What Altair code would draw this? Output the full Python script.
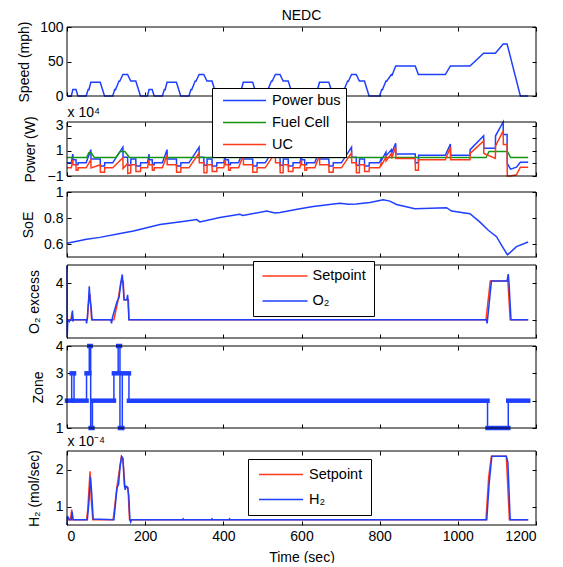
import altair as alt
import pandas as pd

FONT = "Liberation Sans"
BLUE = "#1f3fff"
RED = "#ff3a1a"
GREEN = "#139613"
W = 469
H = 498
XT = [0, 200, 400, 600, 800, 1000, 1200]

# ---------------- data ----------------
SPEED_T = [0, 11, 15, 23, 28, 49, 54, 56, 61, 85, 96, 117, 122, 124, 133, 135, 143, 155, 163, 176, 188,
           206, 210, 218, 223, 244, 249, 251, 256, 280, 291, 312, 317, 319, 328, 330, 338, 350, 358, 371, 383,
           401, 405, 413, 418, 439, 444, 446, 451, 475, 486, 507, 512, 514, 523, 525, 533, 545, 553, 566, 578,
           596, 600, 608, 613, 634, 639, 641, 646, 670, 681, 702, 707, 709, 718, 720, 728, 740, 748, 761, 773,
           800, 805, 807, 816, 818, 830, 832, 841, 891, 899, 968, 981, 1031, 1066, 1096, 1116, 1126, 1160, 1180]
SPEED_V = [0, 0, 9.3, 9.3, 0, 0, 9.3, 9.0, 19.9, 19.9, 0, 0, 9.3, 9.0, 21.7, 21.4, 31.1, 31.1, 21.7, 21.7, 0,
           0, 9.3, 9.3, 0, 0, 9.3, 9.0, 19.9, 19.9, 0, 0, 9.3, 9.0, 21.7, 21.4, 31.1, 31.1, 21.7, 21.7, 0,
           0, 9.3, 9.3, 0, 0, 9.3, 9.0, 19.9, 19.9, 0, 0, 9.3, 9.0, 21.7, 21.4, 31.1, 31.1, 21.7, 21.7, 0,
           0, 9.3, 9.3, 0, 0, 9.3, 9.0, 19.9, 19.9, 0, 0, 9.3, 9.0, 21.7, 21.4, 31.1, 31.1, 21.7, 21.7, 0,
           0, 9.3, 9.0, 21.7, 21.4, 31.1, 30.5, 43.5, 43.5, 31.1, 31.1, 43.5, 43.5, 62.1, 62.1, 75.5, 75.5, 0, 0]

# Power (x 10^4 W): bus and ultracapacitor share time breakpoints
POW_T = [0, 11, 15, 15.5, 23, 23.5, 28, 28.5, 49, 61, 61.5, 85, 85.5, 96, 96.5, 117, 143, 143.5, 155, 155.5, 163, 163.5, 176, 176.5, 188, 188.5,
         206, 210, 210.5, 218, 218.5, 223, 223.5, 244, 256, 256.5, 280, 280.5, 291, 291.5, 312, 338, 338.5, 350, 350.5, 358, 358.5, 371, 371.5, 383, 383.5,
         401, 405, 405.5, 413, 413.5, 418, 418.5, 439, 451, 451.5, 475, 475.5, 486, 486.5, 507, 533, 533.5, 545, 545.5, 553, 553.5, 566, 566.5, 578, 578.5,
         596, 600, 600.5, 608, 608.5, 613, 613.5, 634, 646, 646.5, 670, 670.5, 681, 681.5, 702, 728, 728.5, 740, 740.5, 748, 748.5, 761, 761.5, 773, 773.5,
         800, 805, 805.5, 816, 816.5, 830, 830.5, 841, 841.5, 891, 891.5, 899, 899.5, 968, 981, 981.5, 1031, 1031.5, 1066, 1066.5, 1096, 1096.5, 1116, 1116.5, 1126, 1126.5, 1135, 1150, 1160, 1180]
BUS_V = [0.05, 0.05, 0.75, 0.3, 0.3, -0.1, -0.1, 0.05, 0.05, 1.1, 0.35, 0.35, -0.2, -0.2, 0.05, 0.05, 1.3, 0.5, 0.5, -0.15, -0.15, 0.35, 0.35, -0.2, -0.2, 0.05,
         0.05, 0.75, 0.3, 0.3, -0.1, -0.1, 0.05, 0.05, 1.1, 0.35, 0.35, -0.2, -0.2, 0.05, 0.05, 1.3, 0.5, 0.5, -0.15, -0.15, 0.35, 0.35, -0.2, -0.2, 0.05,
         0.05, 0.75, 0.3, 0.3, -0.1, -0.1, 0.05, 0.05, 1.1, 0.35, 0.35, -0.2, -0.2, 0.05, 0.05, 1.3, 0.5, 0.5, -0.15, -0.15, 0.35, 0.35, -0.2, -0.2, 0.05,
         0.05, 0.75, 0.3, 0.3, -0.1, -0.1, 0.05, 0.05, 1.1, 0.35, 0.35, -0.2, -0.2, 0.05, 0.05, 1.3, 0.5, 0.5, -0.15, -0.15, 0.35, 0.35, -0.2, -0.2, 0.05,
         0.05, 0.5, 0.3, 0.9, 0.6, 1.1, 0.8, 1.6, 0.75, 0.75, 0.05, 0.05, 0.65, 0.65, 1.55, 0.65, 0.65, 1.1, 2.2, 1.2, 1.2, 2.2, 3.6, 2.3, 2.3, 0.0, -0.45, -0.3, 0.1, 0.1]
UC_V = [-0.35, -0.35, 0.3, -0.1, -0.1, -0.55, -0.55, -0.35, -0.35, 0.3, -0.35, -0.1, -0.7, -0.7, -0.35, -0.35, 0.45, -0.4, 0.0, -0.8, -0.75, -0.1, -0.1, -0.65, -0.65, -0.35,
        -0.35, 0.3, -0.1, -0.1, -0.55, -0.55, -0.35, -0.35, 0.65, -0.1, -0.1, -0.7, -0.7, -0.35, -0.35, 0.85, 0.05, 0.05, -0.75, -0.75, -0.1, -0.1, -0.65, -0.65, -0.35,
        -0.35, 0.3, -0.1, -0.1, -0.55, -0.55, -0.35, -0.35, 0.65, -0.1, -0.1, -0.7, -0.7, -0.35, -0.35, 0.85, 0.05, 0.05, -0.75, -0.75, -0.1, -0.1, -0.65, -0.65, -0.35,
        -0.35, 0.3, -0.1, -0.1, -0.55, -0.55, -0.35, -0.35, 0.65, -0.1, -0.1, -0.7, -0.7, -0.35, -0.35, 0.85, 0.05, 0.05, -0.75, -0.75, -0.1, -0.1, -0.65, -0.65, -0.35,
        -0.35, 0.1, -0.1, 0.5, 0.2, 0.8, 0.4, 1.3, 0.4, 0.4, -0.55, -0.55, 0.3, 0.3, 1.3, 0.3, 0.3, 0.8, 1.8, 0.8, 0.4, 1.4, 2.6, 1.5, 1.5, -1.1, -1.0, -0.9, -0.3, -0.3]
FC_T = [0, 50, 56, 62, 70, 125, 136, 148, 160, 1072, 1080, 1127, 1135, 1180]
FC_V = [0.47, 0.47, 0.85, 0.85, 0.47, 0.47, 0.95, 0.95, 0.47, 0.47, 0.95, 0.95, 0.47, 0.47]

SOE_T = [0, 50, 84, 136, 170, 238, 306, 332, 340, 391, 442, 450, 511, 532, 545, 596, 630, 698, 720, 740,
         775, 809, 826, 843, 890, 971, 984, 1031, 1056, 1078, 1099, 1112, 1127, 1150, 1180]
SOE_V = [0.605, 0.636, 0.651, 0.68, 0.70, 0.75, 0.777, 0.788, 0.77, 0.803, 0.828, 0.82, 0.853, 0.838, 0.843, 0.872, 0.889, 0.914, 0.905, 0.908,
         0.92, 0.94, 0.93, 0.904, 0.871, 0.879, 0.853, 0.833, 0.77, 0.706, 0.656, 0.59, 0.516, 0.58, 0.615]

O2SP_T = [0, 10, 13, 16, 52, 56, 59, 63, 120, 130, 138, 144, 146, 157, 158.5, 1072, 1083, 1128, 1134, 1180]
O2SP_V = [3.0, 3.0, 3.2, 3.0, 3.0, 3.6, 3.7, 3.0, 3.0, 3.5, 4.05, 4.05, 3.55, 3.55, 3.0, 3.0, 4.06, 4.06, 3.0, 3.0]
O2_T = [0, 0.5, 2, 6, 8, 12, 14, 15, 17, 49, 50, 52, 55, 57, 59, 62, 64, 112, 114, 116, 128, 133, 139, 141.5,
        146, 153, 155, 156, 158.5, 1073, 1075, 1086, 1126, 1129, 1131, 1136, 1180]
O2_V = [4.47, 2.53, 3.0, 2.95, 3.0, 3.0, 3.25, 2.95, 3.0, 3.0, 2.9, 3.05, 3.5, 3.92, 3.55, 3.3, 3.0, 3.0, 2.9, 3.05, 3.5, 3.6, 4.1, 4.24,
        3.55, 3.55, 3.68, 3.55, 3.0, 3.0, 2.9, 4.06, 4.06, 4.25, 4.0, 3.0, 3.0]

ZONE_START = [0, 12, 18, 50, 57, 60.6, 65, 120, 131, 135.5, 141.5, 158.5, 1076, 1129]
ZONE_END = [12, 18, 50, 57, 60.6, 65, 120, 131, 135.5, 141.5, 158.5, 1076, 1129, 1180]
ZONE_VAL = [2, 3, 2, 3, 4, 1, 2, 3, 4, 1, 3, 2, 1, 2]

H2SP_T = [0, 9, 12, 14, 50, 53, 57, 59, 62, 66, 118, 122, 128, 133, 139, 143, 148, 156, 160, 1072, 1079, 1086, 1124, 1132, 1180]
H2SP_V = [0.64, 0.64, 0.92, 0.64, 0.64, 0.9, 1.6, 1.95, 1.2, 0.64, 0.64, 1.0, 1.55, 1.9, 2.35, 2.3, 1.55, 1.5, 0.64, 0.64, 1.8, 2.36, 2.36, 0.64, 0.64]
H2_T = [0, 1, 4, 6, 11, 13, 16, 52, 56, 60, 63, 67, 120, 128, 132, 136, 140, 143, 147, 149, 151, 155, 158, 161, 163, 165,
        295, 297, 299, 369, 371, 373, 414, 416, 418, 1074, 1080, 1087, 1124, 1128, 1134, 1180]
H2_V = [0.5, 0.72, 0.7, 0.64, 0.64, 0.86, 0.64, 0.64, 1.1, 1.8, 1.4, 0.66, 0.64, 1.5, 1.6, 2.1, 2.35, 2.3, 1.55, 1.45, 1.55, 1.52, 1.3, 0.64, 0.58, 0.64,
        0.64, 0.67, 0.64, 0.64, 0.67, 0.64, 0.64, 0.67, 0.64, 0.64, 1.6, 2.36, 2.36, 2.2, 0.64, 0.64]

# ---------------- tables ----------------
df_speed = pd.DataFrame({"t": SPEED_T, "v": SPEED_V})
df_power = pd.concat([
    pd.DataFrame({"t": POW_T, "v": BUS_V, "s": "Power bus"}),
    pd.DataFrame({"t": FC_T, "v": FC_V, "s": "Fuel Cell"}),
    pd.DataFrame({"t": POW_T, "v": UC_V, "s": "UC"}),
], ignore_index=True)
df_soe = pd.DataFrame({"t": SOE_T, "v": SOE_V})
df_o2sp = pd.DataFrame({"t": O2SP_T, "v": O2SP_V, "s": "Setpoint"})
df_o2 = pd.DataFrame({"t": O2_T, "v": O2_V, "s": "O\u2082"})
df_zone = pd.DataFrame({"t": ZONE_START, "t2": ZONE_END, "v": ZONE_VAL})
df_h2sp = pd.DataFrame({"t": H2SP_T, "v": H2SP_V, "s": "Setpoint"})
df_h2 = pd.DataFrame({"t": H2_T, "v": H2_V, "s": "H\u2082"})

TICK = dict(ticks=True, tickSize=4, tickWidth=1, tickColor="black", domain=False, grid=False)
XS = alt.Scale(domain=[0, 1200], nice=False, zero=False)


def legend(x, y, pad, rowpad, symoff, symlen, laboff):
    return alt.Legend(orient="none", legendX=x, legendY=y, title=None, fillColor="white",
                      strokeColor="black", padding=pad, rowPadding=rowpad, symbolOffset=symoff,
                      symbolSize=symlen * symlen, symbolStrokeWidth=1.5, symbolType="stroke",
                      clipHeight=15, labelOffset=laboff, labelFontSize=14.5, labelFont=FONT,
                      labelColor="black", labelLimit=0, cornerRadius=0)


def panel(make_layers, dom, ticks, top, bottom, ytitle, tpad, xlabels=False, exp=None, clamp=False):
    """One framed axes box; top/bottom are its pixel edges inside the shared plot."""
    ys = alt.Scale(domain=dom, range=[bottom, top], nice=False, zero=False, clamp=clamp)
    frame_df = pd.DataFrame({"t": [XT[0]], "t2": [XT[-1]], "v": [dom[0]], "v2": [dom[1]]})
    if xlabels:
        xb = alt.Axis(orient="bottom", values=XT, offset=bottom - 4 - H, labels=True, format="~r",
                      labelPadding=4, title="Time (sec)", titlePadding=7, **TICK)
    else:
        xb = alt.Axis(orient="bottom", values=XT, offset=bottom - 4 - H, labels=False, title=None, **TICK)
    yl = alt.Axis(orient="left", values=ticks, offset=-4, format="~r", labelPadding=4,
                  title=ytitle, titlePadding=tpad, **TICK)
    if exp:
        xt = alt.Axis(orient="top", values=XT, offset=-(top + 4), labels=False, title=exp,
                      titleX=0, titleY=-10, titleAlign="left", titleBaseline="alphabetic",
                      titleAngle=0, titleFontSize=14, titleFontWeight="normal", **TICK)
    else:
        xt = alt.Axis(orient="top", values=XT, offset=-(top + 4), labels=False, title=None, **TICK)
    yr = alt.Axis(orient="right", values=ticks, offset=-4, labels=False, title=None, **TICK)

    frame = alt.Chart(frame_df).mark_rect(fillOpacity=0, stroke="black", strokeWidth=1).encode(
        x=alt.X("t:Q", scale=XS, axis=xb), x2="t2:Q",
        y=alt.Y("v:Q", scale=ys, axis=yl), y2="v2:Q")
    mirror = alt.Chart(frame_df).mark_rect(opacity=0).encode(
        x=alt.X("t:Q", scale=XS, axis=xt), x2="t2:Q",
        y=alt.Y("v:Q", scale=ys, axis=yr), y2="v2:Q")
    layers = make_layers(alt.X("t:Q", scale=XS, axis=None), alt.Y("v:Q", scale=ys, axis=None))
    return alt.layer(*layers, frame, mirror).resolve_axis(x="independent", y="independent")


speed = panel(lambda X, Y: [
    alt.Chart(df_speed).mark_line(color=BLUE, strokeWidth=1.5).encode(x=X, y=Y)
], [0, 100], [0, 50, 100], 0, 69, "Speed (mph)", 8)

power = panel(lambda X, Y: [
    alt.Chart(df_power).mark_line(strokeWidth=1.5).encode(
        x=X, y=Y,
        color=alt.Color("s:N", scale=alt.Scale(domain=["Power bus", "Fuel Cell", "UC"],
                                               range=[BLUE, GREEN, RED]),
                        legend=legend(145, 61, 5, 6, 5, 43, 5)))
], [-1, 3.3], [-1, 0, 1, 2, 3], 95, 149, "Power (W)", 10, exp="x 10\u2074", clamp=True)

soe = panel(lambda X, Y: [
    alt.Chart(df_soe).mark_line(color=BLUE, strokeWidth=1.5).encode(x=X, y=Y)
], [0.5, 1], [0.6, 0.8, 1], 165, 230, "SoE", 8)

o2_leg = legend(186, 234, 7.5, 9, 1, 45, 4)
o2_col = alt.Scale(domain=["Setpoint", "O\u2082"], range=[RED, BLUE])
o2 = panel(lambda X, Y: [
    alt.Chart(df_o2sp).mark_line(strokeWidth=1.5).encode(
        x=X, y=Y, color=alt.Color("s:N", scale=o2_col, legend=o2_leg)),
    alt.Chart(df_o2).mark_line(strokeWidth=1.5).encode(
        x=X, y=Y, color=alt.Color("s:N", scale=o2_col, legend=o2_leg)),
], [2.5, 4.5], [3, 4], 238, 311, "O\u2082 excess", 14)

zone = panel(lambda X, Y: [
    alt.Chart(df_zone).mark_line(color=BLUE, strokeWidth=1.5, interpolate="step-after").encode(x=X, y=Y),
    alt.Chart(df_zone).mark_rule(color=BLUE, strokeWidth=4.5, strokeCap="square").encode(
        x=X, x2="t2:Q", y=Y),
], [1, 4], [1, 2, 3, 4], 319, 401, "Zone", 10)

h2_leg = legend(181, 432, 8, 9, 2, 44, 5)
h2_col = alt.Scale(domain=["Setpoint", "H\u2082"], range=[RED, BLUE])
h2 = panel(lambda X, Y: [
    alt.Chart(df_h2sp).mark_line(strokeWidth=1.5).encode(
        x=X, y=Y, color=alt.Color("s:N", scale=h2_col, legend=h2_leg)),
    alt.Chart(df_h2).mark_line(strokeWidth=1.5).encode(
        x=X, y=Y, color=alt.Color("s:N", scale=h2_col, legend=h2_leg)),
], [0.5, 2.5], [1, 2], 424, 498, "H\u2082 (mol/sec)", 14, xlabels=True, exp="x 10\u207b\u2074")

chart = alt.layer(speed, power, soe, o2, zone, h2).resolve_scale(
    y="independent", color="independent"
).resolve_axis(
    x="independent", y="independent"
).resolve_legend(
    color="independent"
).properties(
    width=W, height=H,
    autosize=alt.AutoSizeParams(type="none"),
    padding={"left": 59, "top": 19, "right": 19, "bottom": 38},
    title=alt.TitleParams("NEDC", anchor="middle", frame="group", fontSize=14,
                          fontWeight="normal", font=FONT, offset=-3, color="black"),
).configure_view(
    stroke=None
).configure_axis(
    labelFont=FONT, titleFont=FONT, labelFontSize=14, titleFontSize=14,
    labelColor="black", titleColor="black", titleFontWeight="normal"
).configure_legend(
    labelFont=FONT, labelFontSize=14.5, labelColor="black"
).configure_title(
    font=FONT, fontSize=14, fontWeight="normal", color="black"
)

chart.save("out.html", embed_options={"renderer": "svg", "actions": False})
